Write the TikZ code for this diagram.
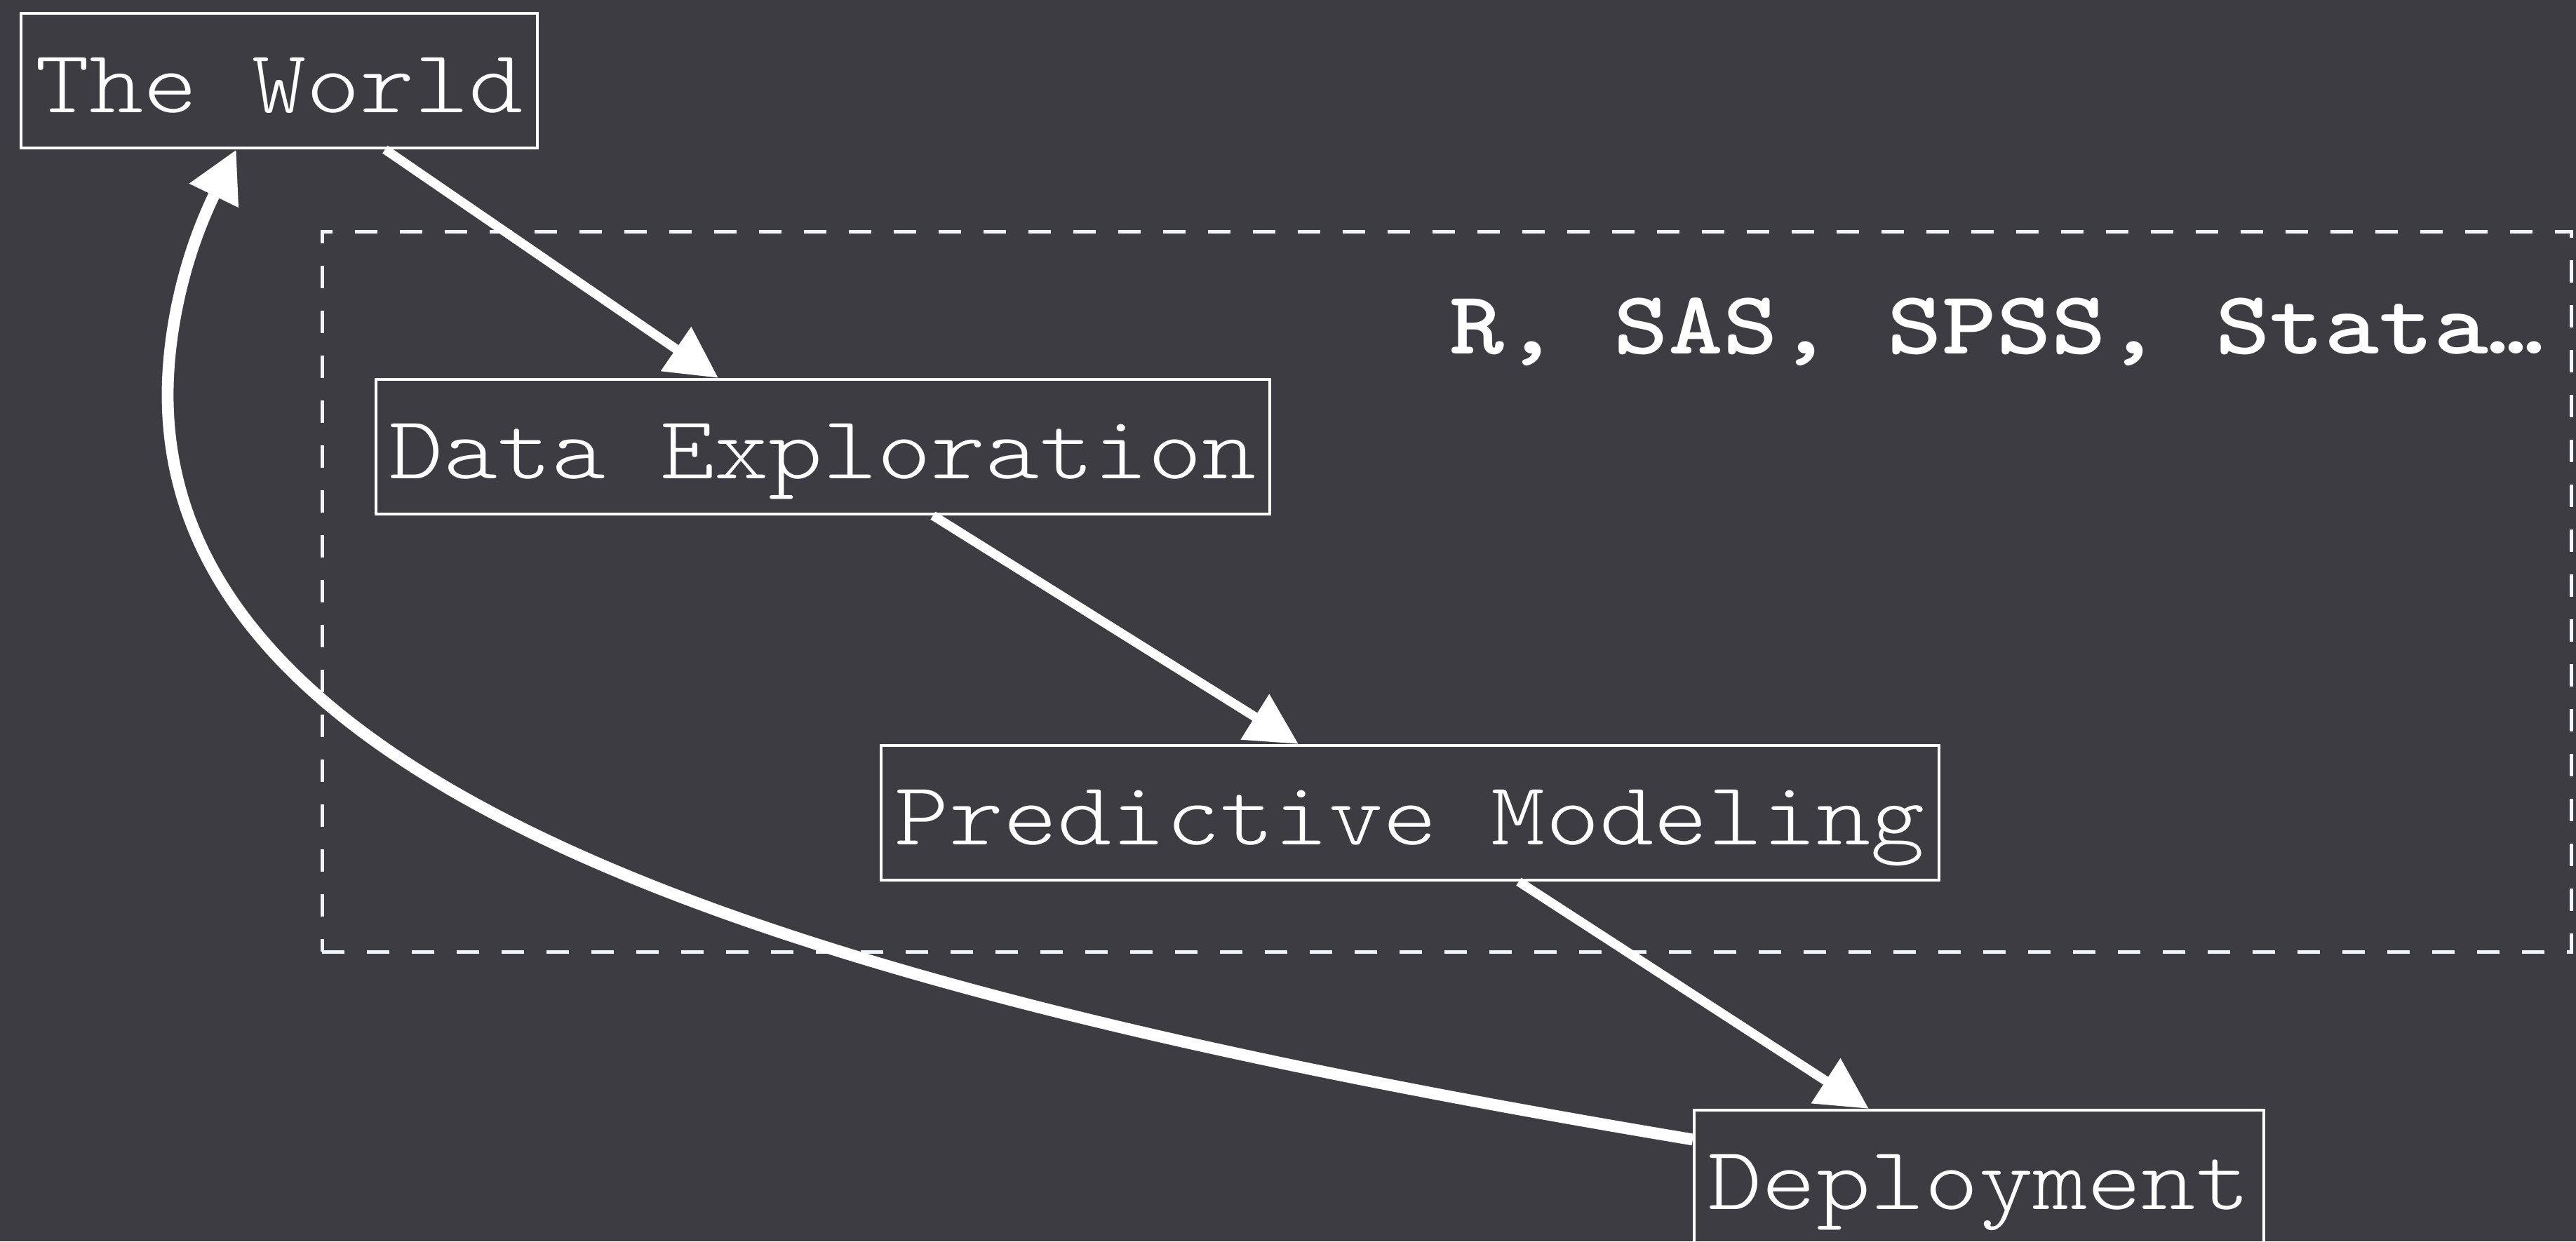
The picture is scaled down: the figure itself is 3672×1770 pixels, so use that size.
\documentclass[tikz,border=0pt]{standalone}
\usepackage{fontspec}
\usetikzlibrary{arrows.meta,calc}
\newfontfamily\boxfont{lmmonolt10-regular.otf}[FakeStretch=1.15]
\newfontfamily\toolfont{lmmonolt10-bold.otf}[FakeStretch=1.16]
\definecolor{bg}{RGB}{62,60,67}
\definecolor{dashcol}{RGB}{240,244,252}
\begin{document}
\begin{tikzpicture}[x=0.25pt,y=-0.25pt,
  stage/.style={draw=white, line width=1.05pt, inner sep=0pt, minimum height=48pt,
    text=white, font=\boxfont\fontsize{32pt}{38pt}\selectfont,
    text height=25pt, text depth=2.5pt},
  flow/.style={draw=white, line width=3.3pt, -{Triangle[length=18.3pt,width=18.3pt]}},
  loopback/.style={flow, line width=4.2pt},
  toolbox/.style={draw=dashcol, line width=1.25pt, dash pattern=on 8pt off 8pt,
    inner sep=0pt, minimum width=801.5pt, minimum height=256.75pt}]
\useasboundingbox (0,0) rectangle (3672,1770);
\clip (0,0) rectangle (3672,1770);
\fill[bg] (0,0) rectangle (3672,1770);
\node[toolbox] (tools) at (2062,843.5) {};
\node[anchor=base west, inner sep=0pt, text=white,
  font=\toolfont\fontsize{32pt}{38pt}\selectfont] (toolnames) at (2066,504) {R, SAS, SPSS, Stata…};
\node[stage, minimum width=184pt] (world) at (398,115) {The World};
\node[stage, minimum width=318.5pt] (dex) at (1173,637) {Data Exploration};
\node[stage, minimum width=377pt] (pm) at (2010,1159) {Predictive Modeling};
\node[stage, minimum width=203pt] (dep) at (2821,1679) {Deployment};
\coordinate (bend) at (239,563);
\draw[flow] ($(world.south west)+(521,0)$) -- ($(dex.north west)+(490,0)$);
\draw[flow] ($(dex.south west)+(796,0)$) -- ($(pm.north west)+(597,0)$);
\draw[flow] ($(pm.south west)+(911,0)$) -- ($(dep.north west)+(251,0)$);
\draw[loopback] ($(dep.north west)+(0,44)$) .. controls +(-1250,-209) and +(0,580) .. (bend)
  .. controls +(0,-80) and +(-79,162) .. ($(world.south west)+(309,0)$);
\end{tikzpicture}
\end{document}
